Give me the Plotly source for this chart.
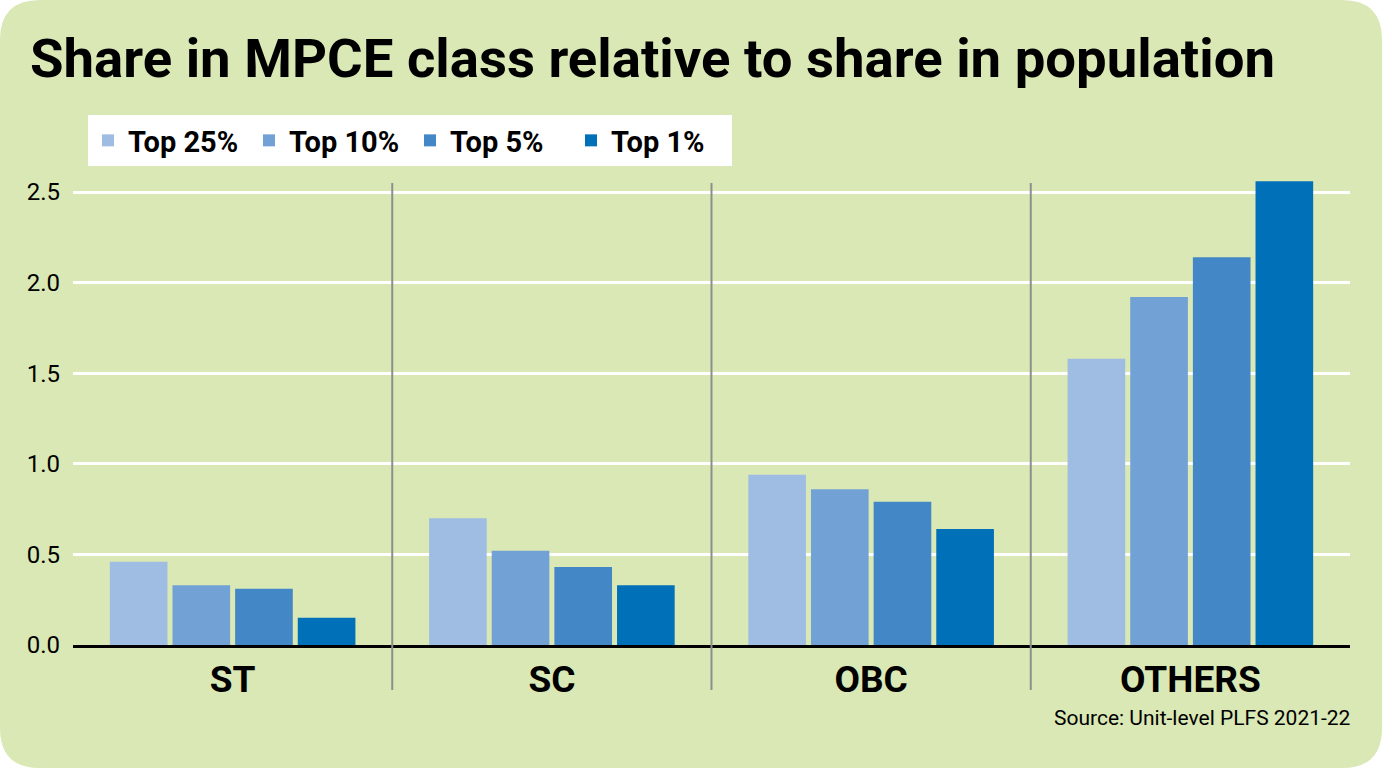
import plotly.graph_objects as go

categories = ["ST", "SC", "OBC", "OTHERS"]
series_names = ["Top 25%", "Top 10%", "Top 5%", "Top 1%"]
top25 = [0.46, 0.70, 0.94, 1.58]
top10 = [0.33, 0.52, 0.86, 1.92]
top5 = [0.31, 0.43, 0.79, 2.14]
top1 = [0.15, 0.33, 0.64, 2.56]
colors = ["#9fbde3", "#72a1d5", "#4387c6", "#0070b9"]
y_ticks = [0.0, 0.5, 1.0, 1.5, 2.0, 2.5]
y_ticklabels = ["0.0", "0.5", "1.0", "1.5", "2.0", "2.5"]

W, H = 1382, 768
L, R, T, B = 73, 32, 177, 123
PW, PH = W - L - R, H - T - B

def px(x):
    return (x - L) / PW

def py(y):
    return (H - B - y) / PH

FONT = "Roboto, sans-serif"
BG = "#d9e8b4"

fig = go.Figure()
for name, vals, c in zip(series_names, [top25, top10, top5, top1], colors):
    fig.add_trace(go.Bar(x=categories, y=vals, name=name, marker=dict(color=c, line=dict(width=0))))

# rounded background
r = 40
x0, x1, y0, y1 = px(0), px(W), py(0), py(H)
rx, ry = r / PW, r / PH
path = (f"M {x0+rx},{y0} L {x1-rx},{y0} Q {x1},{y0} {x1},{y0-ry} "
        f"L {x1},{y1+ry} Q {x1},{y1} {x1-rx},{y1} "
        f"L {x0+rx},{y1} Q {x0},{y1} {x0},{y1+ry} "
        f"L {x0},{y0-ry} Q {x0},{y0} {x0+rx},{y0} Z")
shapes = [dict(type="path", path=path, xref="paper", yref="paper", fillcolor=BG,
               line=dict(width=0), layer="below")]
for i in range(len(categories) - 1):
    shapes.append(dict(type="line", xref="x", yref="paper", x0=i + 0.5, x1=i + 0.5,
                       y0=py(690), y1=py(183), line=dict(color="#8e8e8e", width=2)))

fig.update_layout(
    width=W, height=H,
    margin=dict(l=L, r=R, t=T, b=B),
    paper_bgcolor="white",
    plot_bgcolor="rgba(0,0,0,0)",
    barmode="group",
    bargap=0.215,
    bargroupgap=0.08,
    shapes=shapes,
    font=dict(family=FONT, color="black"),
    title=dict(text="<b>Share in MPCE class relative to share in population</b>",
               x=30 / W, xanchor="left", y=1 - 58 / H, yanchor="middle",
               font=dict(size=54.5, family=FONT, color="black")),
    legend=dict(orientation="h", x=px(88), xanchor="left", y=py(115), yanchor="top",
                bgcolor="white", font=dict(size=29, family=FONT, color="black", weight="bold"),
                traceorder="normal", itemwidth=30, entrywidth=116, entrywidthmode="pixels"),
    xaxis=dict(showgrid=False, showline=True, linecolor="black", linewidth=3,
               tickfont=dict(size=37, family=FONT, color="black"),
               ticks="", ticklabelstandoff=0,
               tickvals=categories, ticktext=[f"<b>{c}</b>" for c in categories]),
    yaxis=dict(range=[0, (H - B - T) / 181.2], tickvals=y_ticks, ticktext=y_ticklabels,
               showgrid=True, gridcolor="white", gridwidth=3, zeroline=False,
               tickfont=dict(size=24, family=FONT, color="black"), ticklabelstandoff=12),
    annotations=[dict(text="Source: Unit-level PLFS 2021-22", xref="paper", yref="paper",
                      x=px(1353), xanchor="right", y=py(718), yanchor="middle",
                      showarrow=False, font=dict(size=21, family=FONT, color="black"))],
)

fig.write_html("out.html")
